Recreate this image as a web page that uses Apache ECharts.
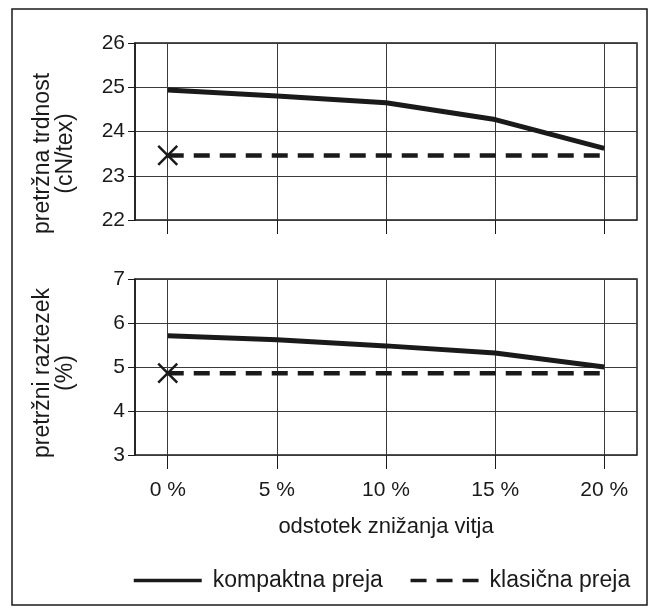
<!DOCTYPE html>
<html>
<head>
<meta charset="utf-8">
<script src="https://cdn.jsdelivr.net/npm/echarts@6/dist/echarts.min.js"></script>
<style>
html,body{margin:0;padding:0;background:#fff;}
#chart{width:650px;height:613px;}
</style>
</head>
<body>
<div id="chart"></div>
<script>
// ---- data ----
const xValues = [0, 5, 10, 15, 20];
const xTickLabels = ['0 %', '5 %', '10 %', '15 %', '20 %'];
const strengthKompaktna = [24.94, 24.8, 24.65, 24.27, 23.62];
const strengthKlasicna = 23.46;           // single value at 0 %
const elongationKompaktna = [5.71, 5.62, 5.48, 5.32, 5.0];
const elongationKlasicna = 4.86;          // single value at 0 %
const seriesNames = ['kompaktna preja', 'klasična preja'];
const xTitle = 'odstotek znižanja vitja';
const yTitles = ['pretržna trdnost\n(cN/tex)', 'pretržni raztezek\n(%)'];

const INK = '#1a1a1a';
const GRIDINK = '#3a3a3a';
const FONT = 'Liberation Sans';
const pairs = (xs, ys) => xs.map((x, i) => [x, ys[i]]);
const flat = (v) => [
  { value: [xValues[0], v], symbol: 'path://M0,0L10,10M10,0L0,10', symbolSize: 19 },
  [xValues[xValues.length - 1], v]
];

function xAxisCfg(gridIndex, showLabels) {
  return {
    type: 'value', gridIndex, min: -1.5, max: 21.5,
    axisLine: { show: false, onZero: false },
    axisTick: { show: true, customValues: xValues, length: 14, inside: false, lineStyle: { color: INK, width: 1 } },
    axisLabel: {
      show: showLabels, customValues: xValues, margin: 25,
      formatter: (v) => xTickLabels[xValues.indexOf(v)],
      color: INK, fontFamily: FONT, fontSize: 21
    },
    splitLine: { show: true, lineStyle: { color: GRIDINK, width: 1 } },
    name: showLabels ? xTitle : '', nameLocation: 'middle', nameGap: 61,
    nameTextStyle: { color: INK, fontFamily: FONT, fontSize: 22 }
  };
}
function yAxisCfg(gridIndex, min, max, title, shift) {
  return {
    type: 'value', gridIndex, min, max, interval: 1,
    axisLine: { show: true, onZero: false, lineStyle: { color: INK, width: 1.5 } },
    axisTick: { show: true, length: 7, lineStyle: { color: INK } },
    axisLabel: { color: INK, fontFamily: FONT, fontSize: 21, margin: 10 },
    splitLine: { show: true, lineStyle: { color: GRIDINK, width: 1 } },
    name: title, nameLocation: 'middle', nameGap: 58, nameRotate: 90,
    nameTextStyle: { color: INK, fontFamily: FONT, fontSize: 23, lineHeight: 23, padding: [0, shift, 0, 0] }
  };
}
const solid = { color: INK, width: 5, type: 'solid' };
const dashed = { color: INK, width: 4.5, type: [16, 10] };

const chart = echarts.init(document.getElementById('chart'), null, { renderer: 'canvas' });
chart.setOption({
  backgroundColor: '#fff',
  animation: false,
  textStyle: { fontFamily: FONT },
  graphic: [{
    type: 'rect', shape: { x: 12, y: 9, width: 635, height: 596 },
    style: { fill: 'none', stroke: INK, lineWidth: 1.5 }, silent: true
  }],
  grid: [
    { left: 135, right: 13, top: 43, height: 177, show: true, borderColor: INK, borderWidth: 1.5 },
    { left: 135, right: 13, top: 279, height: 176, show: true, borderColor: INK, borderWidth: 1.5 }
  ],
  xAxis: [xAxisCfg(0, false), xAxisCfg(1, true)],
  yAxis: [yAxisCfg(0, 22, 26, yTitles[0], 44), yAxisCfg(1, 3, 7, yTitles[1], 12)],
  legend: {
    left: 127, top: 564, itemWidth: 68, itemHeight: 16, itemGap: 26,
    data: seriesNames,
    itemStyle: { color: 'rgba(0,0,0,0)', borderColor: 'rgba(0,0,0,0)', borderWidth: 0 },
    lineStyle: { width: 3.5 },
    textStyle: { color: INK, fontFamily: FONT, fontSize: 23, padding: [0, 0, 0, 6] }
  },
  series: [
    { name: seriesNames[0], type: 'line', xAxisIndex: 0, yAxisIndex: 0, symbol: 'none',
      data: pairs(xValues, strengthKompaktna), lineStyle: solid, itemStyle: { color: INK } },
    { name: seriesNames[1], type: 'line', xAxisIndex: 0, yAxisIndex: 0, symbol: 'none',
      data: flat(strengthKlasicna), lineStyle: dashed,
      itemStyle: { color: 'none', borderColor: INK, borderWidth: 2.5 } },
    { name: seriesNames[0], type: 'line', xAxisIndex: 1, yAxisIndex: 1, symbol: 'none',
      data: pairs(xValues, elongationKompaktna), lineStyle: solid, itemStyle: { color: INK } },
    { name: seriesNames[1], type: 'line', xAxisIndex: 1, yAxisIndex: 1, symbol: 'none',
      data: flat(elongationKlasicna), lineStyle: dashed,
      itemStyle: { color: 'none', borderColor: INK, borderWidth: 2.5 } }
  ]
});
</script>
</body>
</html>
